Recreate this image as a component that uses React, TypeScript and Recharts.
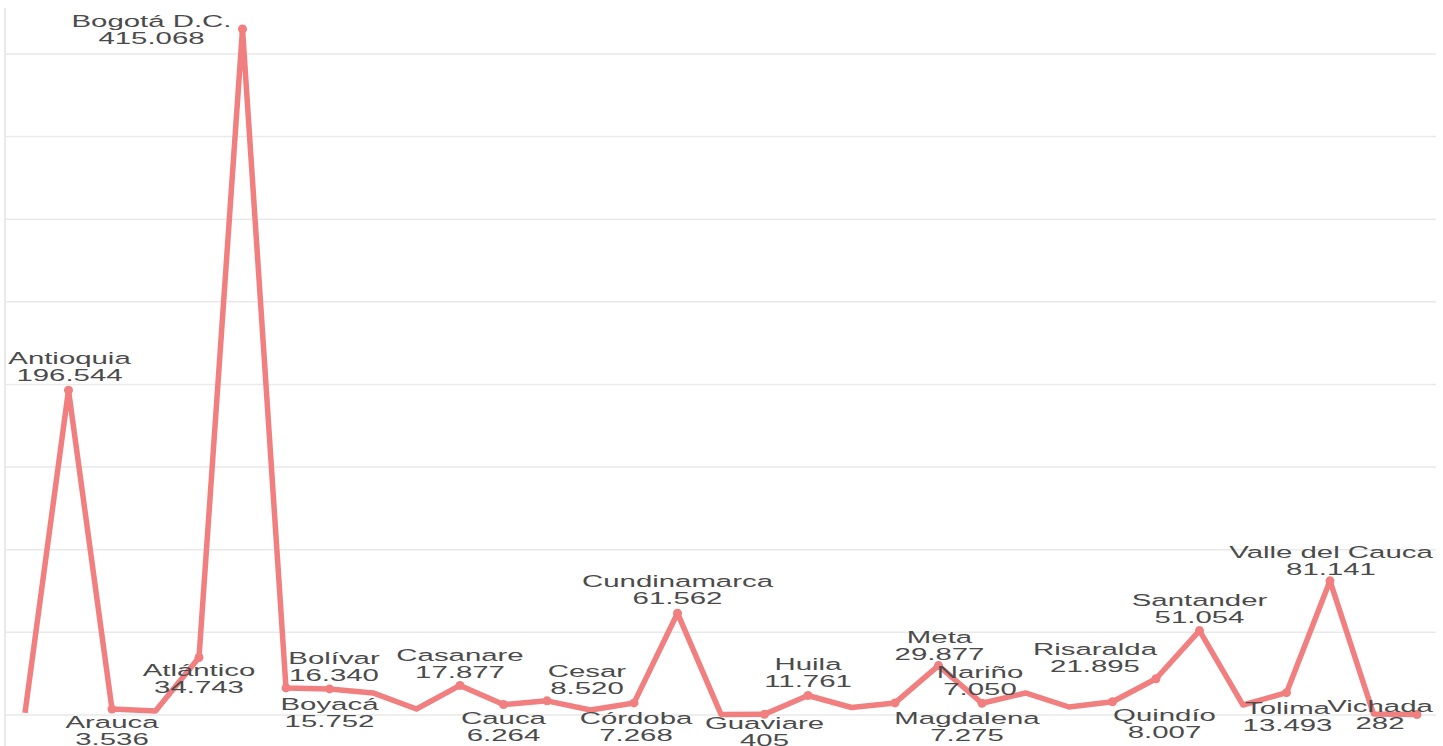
import React from "react";
import { LabelList, Line, LineChart, ReferenceLine, XAxis, YAxis } from "recharts";

const departments = [
  "Amazonas", "Antioquia", "Arauca", "Archipiélago de San Andrés", "Atlántico",
  "Bogotá D.C.", "Bolívar", "Boyacá", "Caldas", "Caquetá", "Casanare", "Cauca",
  "Cesar", "Chocó", "Córdoba", "Cundinamarca", "Guainía", "Guaviare", "Huila",
  "La Guajira", "Magdalena", "Meta", "Nariño", "Norte de Santander", "Putumayo",
  "Quindío", "Risaralda", "Santander", "Sucre", "Tolima", "Valle del Cauca",
  "Vaupés", "Vichada",
];

const totals = [
  1200, 196544, 3536, 2400, 34743, 415068, 16340, 15752, 13300, 3600, 17877,
  6264, 8520, 3000, 7268, 61562, 300, 405, 11761, 4500, 7275, 29877, 7050,
  13300, 4800, 8007, 21895, 51054, 6000, 13493, 81141, 600, 282,
];

const gridTicks = [0, 50000, 100000, 150000, 200000, 250000, 300000, 350000, 400000];

// where each shown label sits relative to its point: [dx, dy of the name line]
const labelNudge: Record<string, [number, number]> = {
  "Antioquia": [1, -32],
  "Arauca": [0, 13],
  "Atlántico": [0, 13],
  "Bogotá D.C.": [-91, -8],
  "Bolívar": [48, -30],
  "Boyacá": [0, 15],
  "Casanare": [0, -30],
  "Cauca": [0, 14],
  "Cesar": [40, -30],
  "Córdoba": [2, 15],
  "Cundinamarca": [0, -32],
  "Guaviare": [0, 9],
  "Huila": [0, -31],
  "Magdalena": [72, 15],
  "Meta": [1, -28],
  "Nariño": [-2, -31],
  "Quindío": [52, 13],
  "Risaralda": [-61, -30],
  "Santander": [0, -30],
  "Tolima": [1, 15],
  "Valle del Cauca": [1, -29],
  "Vichada": [-37, -8],
};

const data = departments.map((name, i) => ({ name, value: totals[i] }));

const LINE = "#f17f7f";
const TEXT = "#4b4b4b";
const GRID = "#e9e9e9";

const fmt = (v: number) => String(v).replace(/\B(?=(\d{3})+(?!\d))/g, ".");

const Dot = ({ cx, cy, index }: any) => {
  const name = departments[index];
  if (!labelNudge[name]) return <g key={`d-${index}`} />;
  return <circle key={`d-${index}`} cx={cx} cy={cy} r={4.5} fill={LINE} stroke="none" />;
};

const PointLabel = ({ x, y, index, value }: any) => {
  const name = departments[index];
  const nudge = labelNudge[name];
  if (!nudge) return null;
  const textProps = {
    textAnchor: "middle" as const,
    dominantBaseline: "central" as const,
    fill: TEXT,
    fontSize: 16.5,
    fontFamily: "'Liberation Sans', Arial, sans-serif",
  };
  return (
    <g transform={`translate(${x + nudge[0]},${y + nudge[1]}) scale(1.78,1)`}>
      <text x={0} y={0} {...textProps}>{name}</text>
      <text x={0} y={17} {...textProps}>{fmt(value)}</text>
    </g>
  );
};

const App = () => {
  return (
    <div style={{ position: "absolute", left: 0, top: 0, width: 1443, height: 746, background: "#fff" }}>
      <LineChart
        width={1443}
        height={746}
        data={data}
        margin={{ top: 8, right: 7, bottom: 0, left: 0 }}
      >
        <XAxis dataKey="name" hide padding={{ left: 20, right: 19 }} />
        <YAxis
          width={5}
          domain={[-18800, 427800]}
          ticks={gridTicks}
          tick={false}
          tickLine={false}
          axisLine={{ stroke: GRID, strokeWidth: 2 }}
        />
        {gridTicks.map((t) => (
          <ReferenceLine key={t} y={t} stroke={GRID} strokeWidth={1.5} ifOverflow="extendDomain" />
        ))}
        <Line
          type="linear"
          dataKey="value"
          stroke={LINE}
          strokeWidth={5.5}
          strokeLinejoin="round"
          dot={Dot}
          activeDot={false}
          isAnimationActive={false}
        >
          <LabelList dataKey="value" content={PointLabel} />
        </Line>
      </LineChart>
    </div>
  );
};

export default App;
